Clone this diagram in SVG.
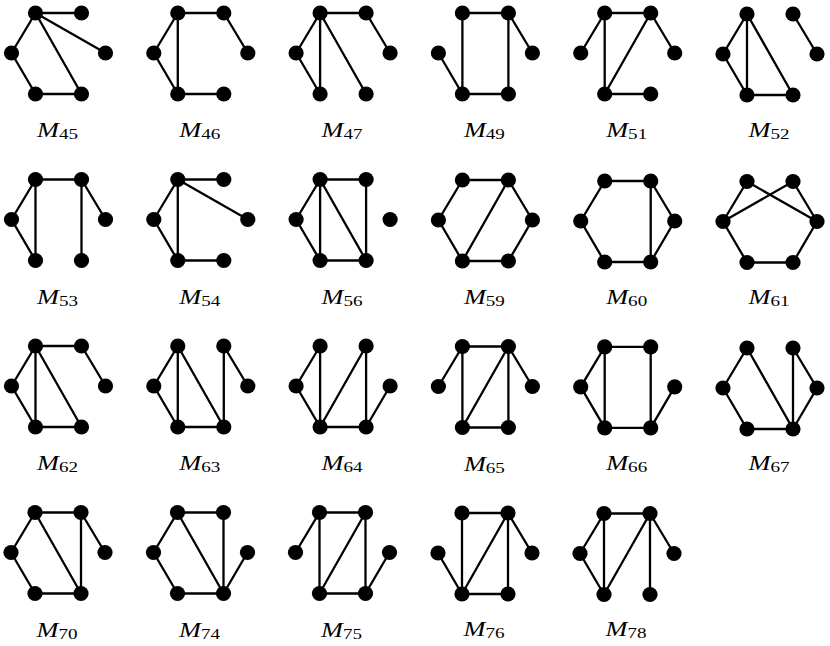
<svg xmlns="http://www.w3.org/2000/svg" xmlns:xlink="http://www.w3.org/1999/xlink" width="830" height="646" viewBox="0 0 830 646">
<style>
.e line{stroke:#000;stroke-width:2.3;stroke-linecap:round}
.n use{fill:#000}
.lbl{font-family:"Liberation Serif","DejaVu Serif",serif;font-size:20px;fill:#000;text-anchor:middle}
.lbl .m{font-style:italic}
.lbl .s{font-size:14.5px}
</style>
<defs><circle id="dot" r="7.6"/></defs>
<rect width="830" height="646" fill="#fff"/>

<!-- Row 1 -->
<g id="M45" transform="translate(35.5,13)">
<g class="e"><line x1="0" y1="0" x2="46" y2="0"/><line x1="0" y1="0" x2="-24" y2="40"/><line x1="0" y1="0" x2="70" y2="40"/><line x1="0" y1="0" x2="46" y2="81"/><line x1="-24" y1="40" x2="0" y2="81"/><line x1="0" y1="81" x2="46" y2="81"/></g>
<g class="n"><g id="M45-a"><use href="#dot" x="0" y="0"/></g><g id="M45-b"><use href="#dot" x="46" y="0"/></g><g id="M45-c"><use href="#dot" x="-24" y="40"/></g><g id="M45-d"><use href="#dot" x="70" y="40"/></g><g id="M45-e"><use href="#dot" x="0" y="81"/></g><g id="M45-f"><use href="#dot" x="46" y="81"/></g></g>
<text class="lbl" x="22" y="124" textLength="41" lengthAdjust="spacingAndGlyphs"><tspan class="m">M</tspan><tspan class="s" dy="2">45</tspan></text>
</g>

<g id="M46" transform="translate(177.8,13)">
<g class="e"><line x1="0" y1="0" x2="46" y2="0"/><line x1="0" y1="0" x2="-24" y2="40"/><line x1="0" y1="0" x2="0" y2="81"/><line x1="46" y1="0" x2="70" y2="40"/><line x1="-24" y1="40" x2="0" y2="81"/><line x1="0" y1="81" x2="46" y2="81"/></g>
<g class="n"><g id="M46-a"><use href="#dot" x="0" y="0"/></g><g id="M46-b"><use href="#dot" x="46" y="0"/></g><g id="M46-c"><use href="#dot" x="-24" y="40"/></g><g id="M46-d"><use href="#dot" x="70" y="40"/></g><g id="M46-e"><use href="#dot" x="0" y="81"/></g><g id="M46-f"><use href="#dot" x="46" y="81"/></g></g>
<text class="lbl" x="22" y="124" textLength="41" lengthAdjust="spacingAndGlyphs"><tspan class="m">M</tspan><tspan class="s" dy="2">46</tspan></text>
</g>

<g id="M47" transform="translate(320.1,13)">
<g class="e"><line x1="0" y1="0" x2="46" y2="0"/><line x1="0" y1="0" x2="-24" y2="40"/><line x1="0" y1="0" x2="0" y2="81"/><line x1="0" y1="0" x2="46" y2="81"/><line x1="46" y1="0" x2="70" y2="40"/><line x1="-24" y1="40" x2="0" y2="81"/></g>
<g class="n"><g id="M47-a"><use href="#dot" x="0" y="0"/></g><g id="M47-b"><use href="#dot" x="46" y="0"/></g><g id="M47-c"><use href="#dot" x="-24" y="40"/></g><g id="M47-d"><use href="#dot" x="70" y="40"/></g><g id="M47-e"><use href="#dot" x="0" y="81"/></g><g id="M47-f"><use href="#dot" x="46" y="81"/></g></g>
<text class="lbl" x="22" y="124" textLength="41" lengthAdjust="spacingAndGlyphs"><tspan class="m">M</tspan><tspan class="s" dy="2">47</tspan></text>
</g>

<g id="M49" transform="translate(462.4,13)">
<g class="e"><line x1="0" y1="0" x2="46" y2="0"/><line x1="0" y1="0" x2="0" y2="81"/><line x1="46" y1="0" x2="46" y2="81"/><line x1="46" y1="0" x2="70" y2="40"/><line x1="-24" y1="40" x2="0" y2="81"/><line x1="0" y1="81" x2="46" y2="81"/></g>
<g class="n"><g id="M49-a"><use href="#dot" x="0" y="0"/></g><g id="M49-b"><use href="#dot" x="46" y="0"/></g><g id="M49-c"><use href="#dot" x="-24" y="40"/></g><g id="M49-d"><use href="#dot" x="70" y="40"/></g><g id="M49-e"><use href="#dot" x="0" y="81"/></g><g id="M49-f"><use href="#dot" x="46" y="81"/></g></g>
<text class="lbl" x="22" y="124" textLength="41" lengthAdjust="spacingAndGlyphs"><tspan class="m">M</tspan><tspan class="s" dy="2">49</tspan></text>
</g>

<g id="M51" transform="translate(604.7,13)">
<g class="e"><line x1="0" y1="0" x2="46" y2="0"/><line x1="0" y1="0" x2="-24" y2="40"/><line x1="0" y1="0" x2="0" y2="81"/><line x1="46" y1="0" x2="0" y2="81"/><line x1="46" y1="0" x2="70" y2="40"/><line x1="0" y1="81" x2="46" y2="81"/></g>
<g class="n"><g id="M51-a"><use href="#dot" x="0" y="0"/></g><g id="M51-b"><use href="#dot" x="46" y="0"/></g><g id="M51-c"><use href="#dot" x="-24" y="40"/></g><g id="M51-d"><use href="#dot" x="70" y="40"/></g><g id="M51-e"><use href="#dot" x="0" y="81"/></g><g id="M51-f"><use href="#dot" x="46" y="81"/></g></g>
<text class="lbl" x="22" y="124" textLength="41" lengthAdjust="spacingAndGlyphs"><tspan class="m">M</tspan><tspan class="s" dy="2">51</tspan></text>
</g>

<g id="M52" transform="translate(747,14)">
<g class="e"><line x1="0" y1="0" x2="-24" y2="40"/><line x1="0" y1="0" x2="0" y2="81"/><line x1="0" y1="0" x2="46" y2="81"/><line x1="-24" y1="40" x2="0" y2="81"/><line x1="0" y1="81" x2="46" y2="81"/><line x1="46" y1="0" x2="70" y2="40"/></g>
<g class="n"><g id="M52-a"><use href="#dot" x="0" y="0"/></g><g id="M52-b"><use href="#dot" x="46" y="0"/></g><g id="M52-c"><use href="#dot" x="-24" y="40"/></g><g id="M52-d"><use href="#dot" x="70" y="40"/></g><g id="M52-e"><use href="#dot" x="0" y="81"/></g><g id="M52-f"><use href="#dot" x="46" y="81"/></g></g>
<text class="lbl" x="22" y="123" textLength="41" lengthAdjust="spacingAndGlyphs"><tspan class="m">M</tspan><tspan class="s" dy="2">52</tspan></text>
</g>

<!-- Row 2 -->
<g id="M53" transform="translate(35.5,179.5)">
<g class="e"><line x1="0" y1="0" x2="46" y2="0"/><line x1="0" y1="0" x2="-24" y2="40"/><line x1="0" y1="0" x2="0" y2="81"/><line x1="-24" y1="40" x2="0" y2="81"/><line x1="46" y1="0" x2="46" y2="81"/><line x1="46" y1="0" x2="70" y2="40"/></g>
<g class="n"><g id="M53-a"><use href="#dot" x="0" y="0"/></g><g id="M53-b"><use href="#dot" x="46" y="0"/></g><g id="M53-c"><use href="#dot" x="-24" y="40"/></g><g id="M53-d"><use href="#dot" x="70" y="40"/></g><g id="M53-e"><use href="#dot" x="0" y="81"/></g><g id="M53-f"><use href="#dot" x="46" y="81"/></g></g>
<text class="lbl" x="22" y="124" textLength="41" lengthAdjust="spacingAndGlyphs"><tspan class="m">M</tspan><tspan class="s" dy="2">53</tspan></text>
</g>

<g id="M54" transform="translate(177.8,179.5)">
<g class="e"><line x1="0" y1="0" x2="46" y2="0"/><line x1="0" y1="0" x2="70" y2="40"/><line x1="0" y1="0" x2="-24" y2="40"/><line x1="0" y1="0" x2="0" y2="81"/><line x1="-24" y1="40" x2="0" y2="81"/><line x1="0" y1="81" x2="46" y2="81"/></g>
<g class="n"><g id="M54-a"><use href="#dot" x="0" y="0"/></g><g id="M54-b"><use href="#dot" x="46" y="0"/></g><g id="M54-c"><use href="#dot" x="-24" y="40"/></g><g id="M54-d"><use href="#dot" x="70" y="40"/></g><g id="M54-e"><use href="#dot" x="0" y="81"/></g><g id="M54-f"><use href="#dot" x="46" y="81"/></g></g>
<text class="lbl" x="22" y="124" textLength="41" lengthAdjust="spacingAndGlyphs"><tspan class="m">M</tspan><tspan class="s" dy="2">54</tspan></text>
</g>

<g id="M56" transform="translate(320.1,179.5)">
<g class="e"><line x1="0" y1="0" x2="46" y2="0"/><line x1="0" y1="0" x2="-24" y2="40"/><line x1="0" y1="0" x2="0" y2="81"/><line x1="0" y1="0" x2="46" y2="81"/><line x1="-24" y1="40" x2="0" y2="81"/><line x1="0" y1="81" x2="46" y2="81"/><line x1="46" y1="0" x2="46" y2="81"/></g>
<g class="n"><g id="M56-a"><use href="#dot" x="0" y="0"/></g><g id="M56-b"><use href="#dot" x="46" y="0"/></g><g id="M56-c"><use href="#dot" x="-24" y="40"/></g><g id="M56-d"><use href="#dot" x="70" y="40"/></g><g id="M56-e"><use href="#dot" x="0" y="81"/></g><g id="M56-f"><use href="#dot" x="46" y="81"/></g></g>
<text class="lbl" x="22" y="124" textLength="41" lengthAdjust="spacingAndGlyphs"><tspan class="m">M</tspan><tspan class="s" dy="2">56</tspan></text>
</g>

<g id="M59" transform="translate(462.4,180)">
<g class="e"><line x1="0" y1="0" x2="46" y2="0"/><line x1="0" y1="0" x2="-24" y2="40"/><line x1="-24" y1="40" x2="0" y2="81"/><line x1="0" y1="81" x2="46" y2="81"/><line x1="46" y1="81" x2="70" y2="40"/><line x1="70" y1="40" x2="46" y2="0"/><line x1="46" y1="0" x2="0" y2="81"/></g>
<g class="n"><g id="M59-a"><use href="#dot" x="0" y="0"/></g><g id="M59-b"><use href="#dot" x="46" y="0"/></g><g id="M59-c"><use href="#dot" x="-24" y="40"/></g><g id="M59-d"><use href="#dot" x="70" y="40"/></g><g id="M59-e"><use href="#dot" x="0" y="81"/></g><g id="M59-f"><use href="#dot" x="46" y="81"/></g></g>
<text class="lbl" x="22" y="124" textLength="41" lengthAdjust="spacingAndGlyphs"><tspan class="m">M</tspan><tspan class="s" dy="2">59</tspan></text>
</g>

<g id="M60" transform="translate(604.7,181)">
<g class="e"><line x1="0" y1="0" x2="46" y2="0"/><line x1="46" y1="0" x2="70" y2="40"/><line x1="70" y1="40" x2="46" y2="81"/><line x1="46" y1="81" x2="0" y2="81"/><line x1="0" y1="81" x2="-24" y2="40"/><line x1="-24" y1="40" x2="0" y2="0"/><line x1="46" y1="0" x2="46" y2="81"/></g>
<g class="n"><g id="M60-a"><use href="#dot" x="0" y="0"/></g><g id="M60-b"><use href="#dot" x="46" y="0"/></g><g id="M60-c"><use href="#dot" x="-24" y="40"/></g><g id="M60-d"><use href="#dot" x="70" y="40"/></g><g id="M60-e"><use href="#dot" x="0" y="81"/></g><g id="M60-f"><use href="#dot" x="46" y="81"/></g></g>
<text class="lbl" x="22" y="123" textLength="41" lengthAdjust="spacingAndGlyphs"><tspan class="m">M</tspan><tspan class="s" dy="2">60</tspan></text>
</g>

<g id="M61" transform="translate(747,181.5)">
<g class="e"><line x1="0" y1="0" x2="-24" y2="40"/><line x1="0" y1="0" x2="70" y2="40"/><line x1="46" y1="0" x2="-24" y2="40"/><line x1="46" y1="0" x2="70" y2="40"/><line x1="-24" y1="40" x2="0" y2="81"/><line x1="0" y1="81" x2="46" y2="81"/><line x1="46" y1="81" x2="70" y2="40"/></g>
<g class="n"><g id="M61-a"><use href="#dot" x="0" y="0"/></g><g id="M61-b"><use href="#dot" x="46" y="0"/></g><g id="M61-c"><use href="#dot" x="-24" y="40"/></g><g id="M61-d"><use href="#dot" x="70" y="40"/></g><g id="M61-e"><use href="#dot" x="0" y="81"/></g><g id="M61-f"><use href="#dot" x="46" y="81"/></g></g>
<text class="lbl" x="22" y="122" textLength="41" lengthAdjust="spacingAndGlyphs"><tspan class="m">M</tspan><tspan class="s" dy="2">61</tspan></text>
</g>

<!-- Row 3 -->
<g id="M62" transform="translate(35.5,346)">
<g class="e"><line x1="0" y1="0" x2="46" y2="0"/><line x1="0" y1="0" x2="-24" y2="40"/><line x1="0" y1="0" x2="0" y2="81"/><line x1="0" y1="0" x2="46" y2="81"/><line x1="-24" y1="40" x2="0" y2="81"/><line x1="0" y1="81" x2="46" y2="81"/><line x1="46" y1="0" x2="70" y2="40"/></g>
<g class="n"><g id="M62-a"><use href="#dot" x="0" y="0"/></g><g id="M62-b"><use href="#dot" x="46" y="0"/></g><g id="M62-c"><use href="#dot" x="-24" y="40"/></g><g id="M62-d"><use href="#dot" x="70" y="40"/></g><g id="M62-e"><use href="#dot" x="0" y="81"/></g><g id="M62-f"><use href="#dot" x="46" y="81"/></g></g>
<text class="lbl" x="22" y="124" textLength="41" lengthAdjust="spacingAndGlyphs"><tspan class="m">M</tspan><tspan class="s" dy="2">62</tspan></text>
</g>

<g id="M63" transform="translate(177.8,346)">
<g class="e"><line x1="0" y1="0" x2="-24" y2="40"/><line x1="0" y1="0" x2="0" y2="81"/><line x1="0" y1="0" x2="46" y2="81"/><line x1="-24" y1="40" x2="0" y2="81"/><line x1="0" y1="81" x2="46" y2="81"/><line x1="46" y1="0" x2="46" y2="81"/><line x1="46" y1="0" x2="70" y2="40"/></g>
<g class="n"><g id="M63-a"><use href="#dot" x="0" y="0"/></g><g id="M63-b"><use href="#dot" x="46" y="0"/></g><g id="M63-c"><use href="#dot" x="-24" y="40"/></g><g id="M63-d"><use href="#dot" x="70" y="40"/></g><g id="M63-e"><use href="#dot" x="0" y="81"/></g><g id="M63-f"><use href="#dot" x="46" y="81"/></g></g>
<text class="lbl" x="22" y="124" textLength="41" lengthAdjust="spacingAndGlyphs"><tspan class="m">M</tspan><tspan class="s" dy="2">63</tspan></text>
</g>

<g id="M64" transform="translate(320.1,346)">
<g class="e"><line x1="0" y1="0" x2="-24" y2="40"/><line x1="0" y1="0" x2="0" y2="81"/><line x1="-24" y1="40" x2="0" y2="81"/><line x1="46" y1="0" x2="0" y2="81"/><line x1="46" y1="0" x2="46" y2="81"/><line x1="0" y1="81" x2="46" y2="81"/><line x1="46" y1="81" x2="70" y2="40"/></g>
<g class="n"><g id="M64-a"><use href="#dot" x="0" y="0"/></g><g id="M64-b"><use href="#dot" x="46" y="0"/></g><g id="M64-c"><use href="#dot" x="-24" y="40"/></g><g id="M64-d"><use href="#dot" x="70" y="40"/></g><g id="M64-e"><use href="#dot" x="0" y="81"/></g><g id="M64-f"><use href="#dot" x="46" y="81"/></g></g>
<text class="lbl" x="22" y="124" textLength="41" lengthAdjust="spacingAndGlyphs"><tspan class="m">M</tspan><tspan class="s" dy="2">64</tspan></text>
</g>

<g id="M65" transform="translate(462.4,346.5)">
<g class="e"><line x1="0" y1="0" x2="46" y2="0"/><line x1="0" y1="0" x2="-24" y2="40"/><line x1="0" y1="0" x2="0" y2="81"/><line x1="46" y1="0" x2="0" y2="81"/><line x1="46" y1="0" x2="46" y2="81"/><line x1="46" y1="0" x2="70" y2="40"/><line x1="0" y1="81" x2="46" y2="81"/></g>
<g class="n"><g id="M65-a"><use href="#dot" x="0" y="0"/></g><g id="M65-b"><use href="#dot" x="46" y="0"/></g><g id="M65-c"><use href="#dot" x="-24" y="40"/></g><g id="M65-d"><use href="#dot" x="70" y="40"/></g><g id="M65-e"><use href="#dot" x="0" y="81"/></g><g id="M65-f"><use href="#dot" x="46" y="81"/></g></g>
<text class="lbl" x="22" y="124" textLength="41" lengthAdjust="spacingAndGlyphs"><tspan class="m">M</tspan><tspan class="s" dy="2">65</tspan></text>
</g>

<g id="M66" transform="translate(604.7,346.8)">
<g class="e"><line x1="0" y1="0" x2="46" y2="0"/><line x1="0" y1="0" x2="-24" y2="40"/><line x1="0" y1="0" x2="0" y2="81"/><line x1="-24" y1="40" x2="0" y2="81"/><line x1="46" y1="0" x2="46" y2="81"/><line x1="0" y1="81" x2="46" y2="81"/><line x1="70" y1="40" x2="46" y2="81"/></g>
<g class="n"><g id="M66-a"><use href="#dot" x="0" y="0"/></g><g id="M66-b"><use href="#dot" x="46" y="0"/></g><g id="M66-c"><use href="#dot" x="-24" y="40"/></g><g id="M66-d"><use href="#dot" x="70" y="40"/></g><g id="M66-e"><use href="#dot" x="0" y="81"/></g><g id="M66-f"><use href="#dot" x="46" y="81"/></g></g>
<text class="lbl" x="22" y="123" textLength="41" lengthAdjust="spacingAndGlyphs"><tspan class="m">M</tspan><tspan class="s" dy="2">66</tspan></text>
</g>

<g id="M67" transform="translate(747,348)">
<g class="e"><line x1="0" y1="0" x2="-24" y2="40"/><line x1="0" y1="0" x2="46" y2="81"/><line x1="-24" y1="40" x2="0" y2="81"/><line x1="0" y1="81" x2="46" y2="81"/><line x1="46" y1="0" x2="46" y2="81"/><line x1="46" y1="0" x2="70" y2="40"/><line x1="70" y1="40" x2="46" y2="81"/></g>
<g class="n"><g id="M67-a"><use href="#dot" x="0" y="0"/></g><g id="M67-b"><use href="#dot" x="46" y="0"/></g><g id="M67-c"><use href="#dot" x="-24" y="40"/></g><g id="M67-d"><use href="#dot" x="70" y="40"/></g><g id="M67-e"><use href="#dot" x="0" y="81"/></g><g id="M67-f"><use href="#dot" x="46" y="81"/></g></g>
<text class="lbl" x="22" y="122" textLength="41" lengthAdjust="spacingAndGlyphs"><tspan class="m">M</tspan><tspan class="s" dy="2">67</tspan></text>
</g>

<!-- Row 4 -->
<g id="M70" transform="translate(35,512.5)">
<g class="e"><line x1="0" y1="0" x2="46" y2="0"/><line x1="0" y1="0" x2="-24" y2="40"/><line x1="-24" y1="40" x2="0" y2="81"/><line x1="0" y1="81" x2="46" y2="81"/><line x1="0" y1="0" x2="46" y2="81"/><line x1="46" y1="0" x2="46" y2="81"/><line x1="46" y1="0" x2="70" y2="40"/></g>
<g class="n"><g id="M70-a"><use href="#dot" x="0" y="0"/></g><g id="M70-b"><use href="#dot" x="46" y="0"/></g><g id="M70-c"><use href="#dot" x="-24" y="40"/></g><g id="M70-d"><use href="#dot" x="70" y="40"/></g><g id="M70-e"><use href="#dot" x="0" y="81"/></g><g id="M70-f"><use href="#dot" x="46" y="81"/></g></g>
<text class="lbl" x="22" y="124" textLength="41" lengthAdjust="spacingAndGlyphs"><tspan class="m">M</tspan><tspan class="s" dy="2">70</tspan></text>
</g>

<g id="M74" transform="translate(177.5,512.5)">
<g class="e"><line x1="0" y1="0" x2="46" y2="0"/><line x1="0" y1="0" x2="-24" y2="40"/><line x1="-24" y1="40" x2="0" y2="81"/><line x1="0" y1="81" x2="46" y2="81"/><line x1="0" y1="0" x2="46" y2="81"/><line x1="46" y1="0" x2="46" y2="81"/><line x1="70" y1="40" x2="46" y2="81"/></g>
<g class="n"><g id="M74-a"><use href="#dot" x="0" y="0"/></g><g id="M74-b"><use href="#dot" x="46" y="0"/></g><g id="M74-c"><use href="#dot" x="-24" y="40"/></g><g id="M74-d"><use href="#dot" x="70" y="40"/></g><g id="M74-e"><use href="#dot" x="0" y="81"/></g><g id="M74-f"><use href="#dot" x="46" y="81"/></g></g>
<text class="lbl" x="22" y="124" textLength="41" lengthAdjust="spacingAndGlyphs"><tspan class="m">M</tspan><tspan class="s" dy="2">74</tspan></text>
</g>

<g id="M75" transform="translate(319.5,512.5)">
<g class="e"><line x1="0" y1="0" x2="46" y2="0"/><line x1="0" y1="0" x2="-24" y2="40"/><line x1="0" y1="0" x2="0" y2="81"/><line x1="46" y1="0" x2="0" y2="81"/><line x1="46" y1="0" x2="46" y2="81"/><line x1="0" y1="81" x2="46" y2="81"/><line x1="70" y1="40" x2="46" y2="81"/></g>
<g class="n"><g id="M75-a"><use href="#dot" x="0" y="0"/></g><g id="M75-b"><use href="#dot" x="46" y="0"/></g><g id="M75-c"><use href="#dot" x="-24" y="40"/></g><g id="M75-d"><use href="#dot" x="70" y="40"/></g><g id="M75-e"><use href="#dot" x="0" y="81"/></g><g id="M75-f"><use href="#dot" x="46" y="81"/></g></g>
<text class="lbl" x="22" y="124" textLength="41" lengthAdjust="spacingAndGlyphs"><tspan class="m">M</tspan><tspan class="s" dy="2">75</tspan></text>
</g>

<g id="M76" transform="translate(462,513)">
<g class="e"><line x1="0" y1="0" x2="46" y2="0"/><line x1="0" y1="0" x2="0" y2="81"/><line x1="46" y1="0" x2="0" y2="81"/><line x1="46" y1="0" x2="46" y2="81"/><line x1="46" y1="0" x2="70" y2="40"/><line x1="0" y1="81" x2="46" y2="81"/><line x1="-24" y1="40" x2="0" y2="81"/></g>
<g class="n"><g id="M76-a"><use href="#dot" x="0" y="0"/></g><g id="M76-b"><use href="#dot" x="46" y="0"/></g><g id="M76-c"><use href="#dot" x="-24" y="40"/></g><g id="M76-d"><use href="#dot" x="70" y="40"/></g><g id="M76-e"><use href="#dot" x="0" y="81"/></g><g id="M76-f"><use href="#dot" x="46" y="81"/></g></g>
<text class="lbl" x="22" y="123" textLength="41" lengthAdjust="spacingAndGlyphs"><tspan class="m">M</tspan><tspan class="s" dy="2">76</tspan></text>
</g>

<g id="M78" transform="translate(604,513.5)">
<g class="e"><line x1="0" y1="0" x2="46" y2="0"/><line x1="0" y1="0" x2="-24" y2="40"/><line x1="0" y1="0" x2="0" y2="81"/><line x1="-24" y1="40" x2="0" y2="81"/><line x1="46" y1="0" x2="0" y2="81"/><line x1="46" y1="0" x2="46" y2="81"/><line x1="46" y1="0" x2="70" y2="40"/></g>
<g class="n"><g id="M78-a"><use href="#dot" x="0" y="0"/></g><g id="M78-b"><use href="#dot" x="46" y="0"/></g><g id="M78-c"><use href="#dot" x="-24" y="40"/></g><g id="M78-d"><use href="#dot" x="70" y="40"/></g><g id="M78-e"><use href="#dot" x="0" y="81"/></g><g id="M78-f"><use href="#dot" x="46" y="81"/></g></g>
<text class="lbl" x="22" y="122" textLength="41" lengthAdjust="spacingAndGlyphs"><tspan class="m">M</tspan><tspan class="s" dy="2">78</tspan></text>
</g>
</svg>
